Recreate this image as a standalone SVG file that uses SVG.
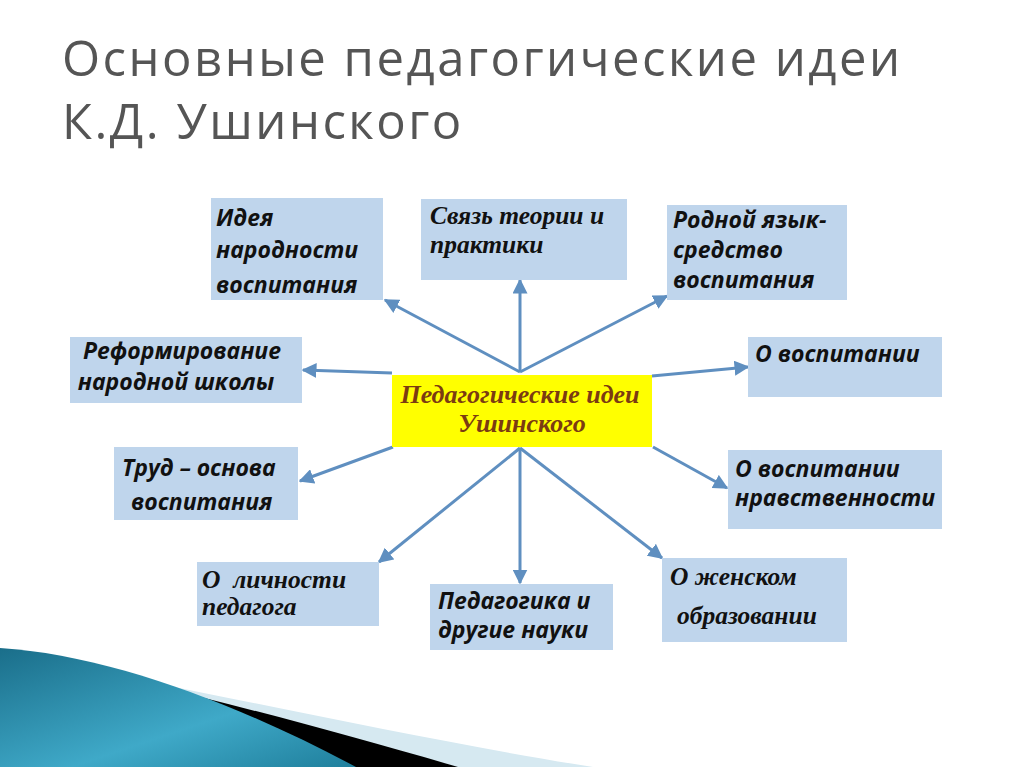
<svg xmlns="http://www.w3.org/2000/svg" width="1024" height="767" viewBox="0 0 1024 767">
<defs>
<style>
.box{fill:#bfd5ec;}
.sans{font-family:"Open Sans","DejaVu Sans",sans-serif;font-weight:bold;font-style:italic;font-size:23px;fill:#111;}
.serif{font-family:"Liberation Serif","DejaVu Serif",serif;font-weight:bold;font-style:italic;font-size:25.5px;fill:#111;}
.ctr{font-family:"Liberation Serif","DejaVu Serif",serif;font-weight:bold;font-style:italic;font-size:26px;fill:#7b3b12;}
.title{font-family:"Open Sans","DejaVu Sans",sans-serif;font-size:49px;fill:#555;letter-spacing:2.5px;}
.arr{stroke:#5f8fc0;stroke-width:3;fill:none;marker-end:url(#ah);}
</style>
<marker id="ah" viewBox="0 0 10 10" refX="9" refY="5" markerWidth="5" markerHeight="5" orient="auto" markerUnits="strokeWidth">
<path d="M0,0 L10,5 L0,10 Z" fill="#5f8fc0"/>
</marker>
<linearGradient id="teal" x1="0" y1="0" x2="1" y2="1">
<stop offset="0" stop-color="#1a6e8a"/>
<stop offset="0.6" stop-color="#3fa9c8"/>
<stop offset="1" stop-color="#1f7f9c"/>
</linearGradient>
</defs>
<rect width="1024" height="767" fill="#fff"/>
<g id="title">
<text class="title" x="62" y="76">Основные педагогические идеи</text>
<text class="title" x="62" y="139">К.Д. Ушинского</text>
</g>
<g id="decor">
<path d="M40,661 C200,690 420,740 593,767 L0,767 Z" fill="#d6e9f1"/>
<path d="M40,661 C170,686 330,730 458,767 L0,767 Z" fill="#000"/>
<path d="M0,648 C110,655 240,705 356,767 L0,767 Z" fill="url(#teal)"/>
</g>
<g id="connectors">
<line class="arr" x1="520" y1="372" x2="385" y2="300"/>
<line class="arr" x1="520" y1="372" x2="520" y2="280"/>
<line class="arr" x1="520" y1="372" x2="667" y2="296"/>
<line class="arr" x1="392" y1="373" x2="303" y2="370"/>
<line class="arr" x1="393" y1="447" x2="300" y2="481"/>
<line class="arr" x1="652" y1="376" x2="748" y2="367"/>
<line class="arr" x1="653" y1="447" x2="727" y2="488"/>
<line class="arr" x1="520" y1="448" x2="379" y2="562"/>
<line class="arr" x1="520" y1="448" x2="520" y2="583"/>
<line class="arr" x1="520" y1="448" x2="662" y2="558"/>
</g>
<g id="center">
<rect x="392" y="375" width="260" height="72" fill="#ffff00"/>
<text class="ctr" x="520" y="403" text-anchor="middle">Педагогические идеи</text>
<text class="ctr" x="522" y="432" text-anchor="middle">Ушинского</text>
</g>
<g id="n1">
<rect class="box" x="211" y="198" width="172" height="102"/>
<text class="sans" x="216" y="226">Идея</text>
<text class="sans" x="216" y="258">народности</text>
<text class="sans" x="216" y="293">воспитания</text>
</g>
<g id="n2">
<rect class="box" x="421" y="199" width="206" height="81"/>
<text class="serif" x="430" y="224">Связь теории и</text>
<text class="serif" x="430" y="253">практики</text>
</g>
<g id="n3">
<rect class="box" x="667" y="205" width="180" height="95"/>
<text class="sans" x="673" y="228">Родной язык-</text>
<text class="sans" x="673" y="258">средство</text>
<text class="sans" x="673" y="288">воспитания</text>
</g>
<g id="n4">
<rect class="box" x="70" y="337" width="232" height="66"/>
<text class="sans" x="182" y="359" text-anchor="middle">Реформирование</text>
<text class="sans" x="176" y="390" text-anchor="middle">народной школы</text>
</g>
<g id="n5">
<rect class="box" x="748" y="337" width="194" height="60"/>
<text class="sans" x="755" y="362">О воспитании</text>
</g>
<g id="n6">
<rect class="box" x="114" y="447" width="184" height="73"/>
<text class="sans" x="122" y="476">Труд – основа</text>
<text class="sans" x="131" y="510">воспитания</text>
</g>
<g id="n7">
<rect class="box" x="728" y="450" width="214" height="79"/>
<text class="sans" x="735" y="477">О воспитании</text>
<text class="sans" x="735" y="506">нравственности</text>
</g>
<g id="n8">
<rect class="box" x="197" y="562" width="182" height="64"/>
<text class="serif" x="202" y="588" xml:space="preserve">О  личности</text>
<text class="serif" x="202" y="615">педагога</text>
</g>
<g id="n9">
<rect class="box" x="430" y="584" width="183" height="66"/>
<text class="sans" x="438" y="609">Педагогика и</text>
<text class="sans" x="438" y="638">другие науки</text>
</g>
<g id="n10">
<rect class="box" x="662" y="558" width="185" height="84"/>
<text class="serif" x="670" y="585">О женском</text>
<text class="serif" x="677" y="624">образовании</text>
</g>
</svg>
